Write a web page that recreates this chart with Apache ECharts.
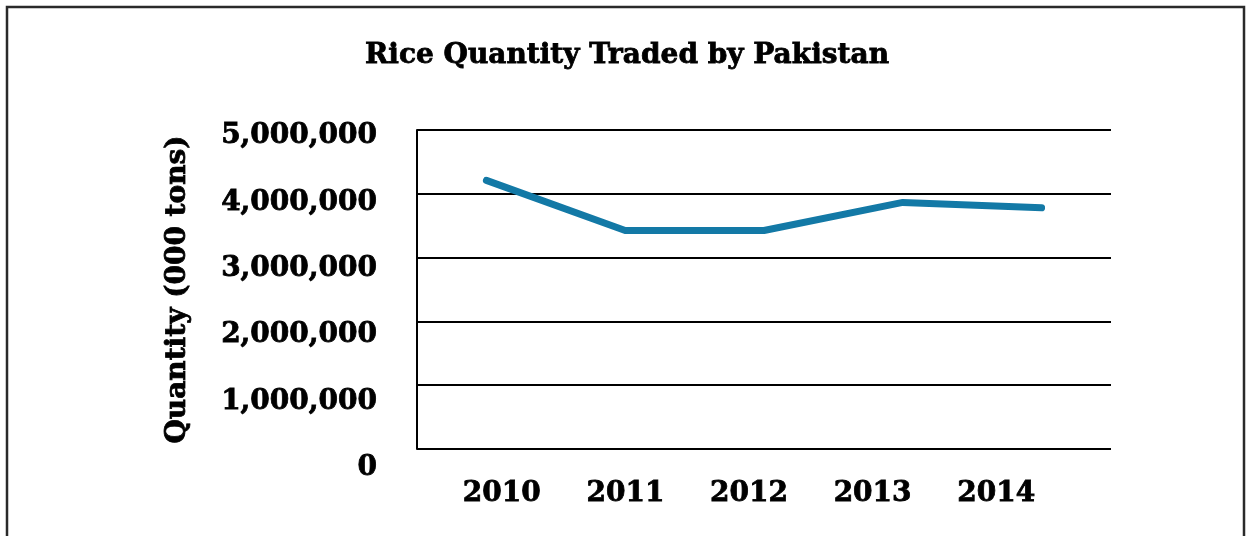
<!DOCTYPE html>
<html>
<head>
<meta charset="utf-8">
<script src="https://cdn.jsdelivr.net/npm/echarts@6/dist/echarts.min.js"></script>
<style>
  html, body { margin: 0; padding: 0; background: #fff; }
  #main { width: 1254px; height: 536px; }
</style>
</head>
<body>
<div id="main"></div>
<script>
// Data
const years = ["2010", "2011", "2012", "2013", "2014"];
const quantity = [4210000, 3425000, 3425000, 3865000, 3780000];
const yTicks = [0, 1000000, 2000000, 3000000, 4000000, 5000000];

const fontFamily = "'DejaVu Serif', serif";
// a thin stroke of the same colour makes the bold text look heavier, like the original
const labelFont = {
  fontFamily: fontFamily,
  fontWeight: "bold",
  fontSize: 28,
  color: "#000",
  textBorderColor: "#000",
  textBorderWidth: 0.8,
};

const chart = echarts.init(document.getElementById("main"));

chart.setOption({
  animation: false,
  backgroundColor: "#fff",
  title: {
    text: "Rice Quantity Traded by Pakistan",
    left: "center",
    top: 37,
    textStyle: Object.assign({}, labelFont),
  },
  graphic: [
    {
      // outer frame of the chart area
      type: "rect",
      shape: { x: 7, y: 7, width: 1237, height: 600 },
      style: { fill: "none", stroke: "#2a2a2a", lineWidth: 2.5 },
      silent: true,
    },
  ],
  grid: [
    { left: 417, right: 143, top: 130, bottom: 87 },
    // second grid only carries the tick labels, offset the way the original has them
    { left: 440, width: 618, top: 136, bottom: 68 },
  ],
  xAxis: [
    {
      type: "category",
      gridIndex: 0,
      data: years,
      boundaryGap: true,
      axisLine: { show: false },
      axisTick: { show: false },
      axisLabel: { show: false },
    },
    {
      type: "category",
      gridIndex: 1,
      data: years,
      boundaryGap: true,
      axisLine: { show: false },
      axisTick: { show: false },
      axisLabel: Object.assign({ margin: 12 }, labelFont),
    },
  ],
  yAxis: [
    {
      type: "value",
      gridIndex: 0,
      min: yTicks[0],
      max: yTicks[yTicks.length - 1],
      interval: 1000000,
      name: "Quantity (000 tons)",
      nameLocation: "middle",
      nameRotate: 90,
      nameGap: 225,
      nameTextStyle: Object.assign({}, labelFont),
      axisLine: { show: true, lineStyle: { color: "#000", width: 2 } },
      axisTick: { show: false },
      splitLine: { show: true, lineStyle: { color: "#000", width: 2 } },
      axisLabel: { show: false },
    },
    {
      type: "value",
      gridIndex: 1,
      min: yTicks[0],
      max: yTicks[yTicks.length - 1],
      interval: 1000000,
      axisLine: { show: false },
      axisTick: { show: false },
      splitLine: { show: false },
      axisLabel: Object.assign(
        {
          margin: 63,
          formatter: (v) => v.toLocaleString("en-US"),
        },
        labelFont
      ),
    },
  ],
  series: [
    {
      type: "line",
      xAxisIndex: 0,
      yAxisIndex: 0,
      data: quantity,
      showSymbol: false,
      symbol: "none",
      lineStyle: { color: "#1379a6", width: 7, cap: "round", join: "round" },
    },
  ],
});
</script>
</body>
</html>
